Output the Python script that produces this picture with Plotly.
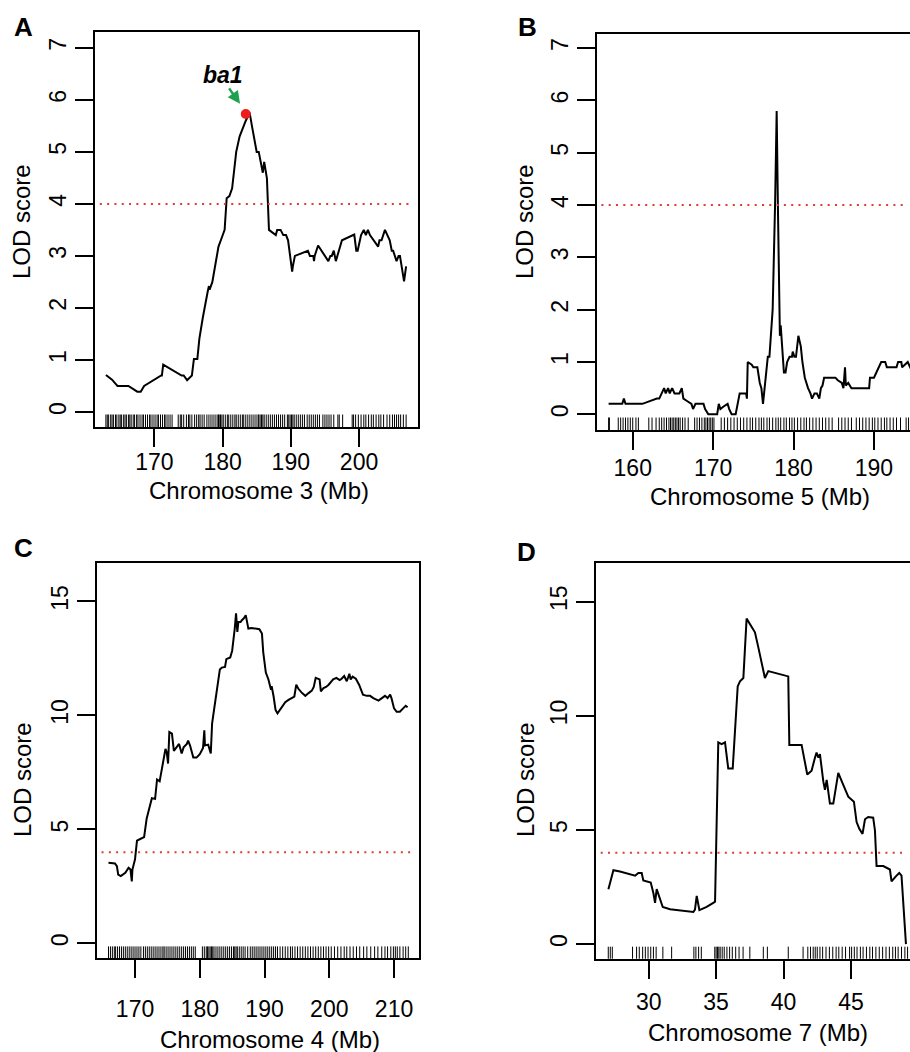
import plotly.graph_objects as go

# ---------------- data ----------------
# Panel A: Chromosome 3
a_pos = [162.9, 163.8, 164.2, 164.6, 166.2, 167.5, 168.0, 168.5, 171.0, 171.1, 171.3, 174.0, 174.3, 174.8, 175.5, 175.8, 176.3, 176.6, 177.1, 177.5, 177.8, 178.0, 178.1, 178.5, 179.0, 179.4, 179.8, 180.3, 180.6, 181.0, 181.4, 181.7, 182.0, 182.5, 183.0, 183.4, 183.8, 184.0, 184.3, 184.6, 185.0, 185.3, 185.6, 185.9, 186.1, 186.3, 186.5, 186.8, 187.8, 188.0, 188.5, 188.9, 189.3, 189.6, 190.2, 190.3, 190.6, 192.5, 192.8, 193.3, 193.4, 193.5, 194.0, 195.5, 195.8, 196.0, 196.3, 196.6, 197.2, 197.5, 199.3, 199.6, 199.8, 200.3, 200.7, 201.0, 201.3, 201.6, 202.8, 203.0, 203.3, 203.8, 204.5, 204.8, 205.0, 205.5, 205.8, 206.0, 206.6, 206.9]
a_lod = [0.71, 0.62, 0.56, 0.50, 0.50, 0.39, 0.39, 0.50, 0.70, 0.70, 0.91, 0.70, 0.70, 0.61, 0.70, 1.02, 1.02, 1.41, 1.81, 2.13, 2.30, 2.42, 2.35, 2.50, 2.90, 3.18, 3.32, 3.50, 4.11, 4.15, 4.30, 4.60, 5.00, 5.30, 5.49, 5.60, 5.71, 5.73, 5.50, 5.30, 5.00, 5.00, 4.78, 4.60, 4.81, 4.60, 4.49, 3.50, 3.40, 3.50, 3.50, 3.40, 3.40, 3.30, 2.70, 2.80, 3.00, 3.10, 3.00, 3.00, 2.90, 3.00, 3.20, 2.90, 3.00, 3.00, 3.10, 2.90, 3.20, 3.30, 3.41, 3.10, 3.10, 3.40, 3.50, 3.40, 3.50, 3.40, 3.18, 3.30, 3.30, 3.50, 3.30, 3.10, 3.10, 2.90, 3.00, 3.00, 2.51, 2.80, 2.70, 2.70]
a_markers = [162.9, 163.1, 163.3, 163.6, 163.8, 164.0, 164.3, 164.5, 164.8, 165.0, 165.2, 165.5, 165.7, 165.9, 166.2, 166.4, 166.6, 166.9, 167.1, 167.4, 167.6, 167.9, 168.2, 168.4, 168.7, 169.0, 169.3, 169.5, 169.8, 170.1, 170.4, 170.6, 170.9, 171.2, 171.5, 171.7, 172.0, 172.3, 172.6,
             173.5, 173.8, 174.0, 174.3, 174.7, 175.0, 175.2, 175.5, 175.9, 176.2, 176.5, 176.7, 177.0, 177.3, 177.7, 178.0, 178.3, 178.6,
             178.9, 179.2, 179.4, 179.5, 179.7, 179.9, 180.1, 180.4, 180.7, 180.9, 181.2, 181.5, 181.8, 182.0, 182.3, 182.6, 182.9, 183.1, 183.4, 183.7, 184.0, 184.3, 184.6, 184.9, 185.2, 185.3, 185.5, 185.7, 185.9, 186.1, 186.4, 186.7, 187.0, 187.3, 187.6, 187.9, 188.2, 188.5, 188.8, 189.1, 189.5, 189.7, 189.9, 190.1, 190.3, 190.5, 190.8, 191.1, 191.4, 191.7, 192.0, 192.4, 192.7, 193.0, 193.3, 193.6, 193.9, 194.2,
             194.7, 195.0, 195.3, 195.6, 195.9, 196.3, 196.9, 197.1, 197.6,
             199.0, 199.2, 199.5, 199.9, 200.3, 200.7, 201.0, 201.4, 201.8, 202.1, 202.5, 202.9, 203.2, 203.6, 204.1, 204.5, 204.9, 205.2, 205.5, 205.8, 206.1, 206.5, 206.9]
a_peak = (183.4, 5.73)

# Panel B: Chromosome 5
b_pos = [157.0, 158.7, 158.9, 159.1, 161.2, 162.0, 163.0, 163.3, 163.6, 163.9, 164.1, 164.4, 164.6, 164.9, 165.2, 165.8, 166.1, 166.3, 166.8, 167.3, 167.5, 167.8, 168.8, 169.0, 169.4, 170.5, 170.7, 170.9, 171.3, 171.8, 172.0, 172.3, 172.8, 173.2, 173.3, 174.1, 174.2, 174.3, 174.8, 175.0, 175.5, 175.8, 176.0, 176.2, 176.6, 176.8, 177.0, 177.4, 177.7, 177.9, 178.05, 178.2, 178.3, 178.4, 178.6, 178.8, 179.0, 179.2, 179.5, 179.8, 179.9, 180.1, 180.3, 180.6, 180.9, 181.1, 181.4, 181.8, 182.1, 182.3, 182.6, 182.9, 183.2, 183.4, 183.6, 183.8, 185.2, 185.5, 186.0, 186.2, 186.4, 186.5, 186.8, 187.2, 189.4, 189.5, 190.0, 190.3, 190.6, 190.9, 191.4, 191.6, 192.8, 193.0, 193.4, 193.5, 194.2, 194.5, 195.0]
b_lod = [0.20, 0.20, 0.30, 0.20, 0.20, 0.25, 0.30, 0.30, 0.40, 0.50, 0.40, 0.50, 0.40, 0.50, 0.40, 0.40, 0.50, 0.30, 0.25, 0.20, 0.10, 0.20, 0.20, 0.10, 0.00, 0.00, 0.20, 0.10, 0.15, 0.20, 0.10, 0.00, 0.00, 0.30, 0.40, 0.40, 0.30, 1.00, 0.95, 0.90, 0.90, 0.60, 0.50, 0.20, 0.80, 1.10, 1.10, 2.00, 4.00, 5.80, 4.00, 1.71, 1.50, 1.70, 1.20, 0.80, 0.80, 1.00, 1.10, 1.10, 1.20, 1.10, 1.10, 1.50, 1.30, 1.00, 0.70, 0.50, 0.40, 0.30, 0.40, 0.40, 0.30, 0.50, 0.55, 0.70, 0.70, 0.65, 0.60, 0.50, 0.90, 0.55, 0.60, 0.50, 0.50, 0.70, 0.70, 0.80, 0.90, 1.00, 1.00, 0.90, 0.90, 1.00, 1.00, 0.90, 1.00, 0.90, 1.00]
b_markers = [157.0, 157.1, 158.2, 158.5, 158.8, 159.1, 159.4, 159.7, 160.0, 160.4, 160.7, 162.0, 162.4, 162.9, 163.3, 163.6, 163.9, 164.2, 164.5, 164.7, 164.9, 165.1, 165.3, 165.5, 165.7, 165.9, 166.2, 166.5, 166.9, 167.7, 168.0, 168.3, 168.6, 168.9, 169.1, 169.3, 169.5, 169.7, 169.9, 170.1, 171.0, 171.4, 171.8, 172.2, 172.6, 173.0, 173.4, 173.8, 174.2, 174.6, 174.9, 175.3, 175.7, 176.0, 176.3, 176.7, 177.0, 177.4, 177.8, 178.1, 178.4, 178.8, 179.1, 179.5, 179.8, 180.1, 180.5, 180.9, 181.3, 181.6, 182.0, 182.4, 182.8, 183.2, 183.6, 184.0, 184.4, 184.8, 185.6, 186.0, 186.4, 186.8, 187.2, 187.8, 188.2, 188.6, 189.0, 189.4, 189.8, 190.1, 190.5, 190.9, 191.3, 191.6, 192.0, 192.4, 192.8, 193.3, 194.0, 194.3]

# Panel C: Chromosome 4
c_pos = [165.9, 166.9, 167.2, 167.4, 167.8, 168.5, 169.0, 169.3, 169.5, 169.6, 170.0, 170.3, 170.8, 171.4, 171.8, 172.2, 172.6, 173.1, 173.4, 173.8, 174.1, 174.5, 174.7, 174.9, 175.1, 175.3, 175.7, 176.0, 176.4, 176.8, 177.2, 177.5, 178.0, 178.2, 178.5, 179.0, 179.5, 180.0, 180.5, 180.7, 180.8, 181.3, 181.7, 181.9, 182.2, 182.6, 183.1, 183.4, 183.9, 184.1, 184.7, 185.0, 185.3, 185.4, 185.6, 185.8, 185.96, 186.3, 186.5, 186.8, 187.1, 187.5, 188.0, 188.8, 189.2, 189.6, 189.8, 190.2, 190.6, 191.0, 191.1, 191.4, 191.7, 192.0, 192.4, 192.8, 193.2, 193.7, 194.2, 194.6, 194.9, 195.2, 195.7, 196.3, 196.8, 197.3, 197.6, 197.9, 198.5, 198.7, 199.1, 199.5, 199.9, 200.1, 200.6, 201.1, 201.6, 201.9, 202.3, 202.7, 203.1, 203.3, 203.6, 204.1, 204.6, 205.2, 205.8, 206.3, 206.8, 207.6, 208.1, 208.6, 209.0, 209.4, 209.6, 210.0, 210.4, 210.9, 211.4, 211.8, 212.1]
c_lod = [3.54, 3.51, 3.39, 3.02, 2.95, 3.10, 3.32, 3.24, 2.72, 3.24, 3.69, 4.51, 4.58, 4.66, 5.48, 6.00, 6.37, 6.34, 7.19, 7.11, 7.63, 8.30, 8.53, 8.38, 7.89, 9.27, 9.20, 8.45, 8.60, 8.75, 8.33, 8.60, 8.75, 8.90, 8.68, 8.15, 8.15, 8.30, 8.57, 9.35, 8.68, 8.72, 8.33, 9.64, 10.24, 10.98, 12.02, 12.10, 12.13, 12.47, 12.54, 12.84, 13.51, 13.81, 14.48, 13.66, 14.10, 14.10, 14.18, 14.26, 14.40, 13.81, 13.84, 13.81, 13.78, 13.59, 12.77, 11.88, 11.58, 11.13, 11.28, 10.83, 10.24, 10.09, 10.27, 10.46, 10.58, 10.68, 10.76, 10.83, 11.35, 11.18, 11.01, 10.86, 10.98, 11.09, 11.25, 11.65, 11.58, 11.06, 11.20, 11.25, 11.35, 11.43, 11.58, 11.65, 11.55, 11.61, 11.73, 11.50, 11.83, 11.58, 11.70, 11.61, 11.35, 10.91, 10.86, 10.86, 10.76, 10.65, 10.76, 10.86, 10.76, 10.91, 10.76, 10.31, 10.16, 10.16, 10.31, 10.42, 10.36]
c_markers = [165.9, 166.2, 166.5, 166.8, 167.0, 167.3, 167.6, 167.9, 168.2, 168.5, 168.8, 169.1, 169.4, 169.7, 170.0, 170.3, 170.6, 170.9, 171.3, 171.6, 171.9, 172.2, 172.5, 172.8, 173.1, 173.4, 173.7, 174.0, 174.3, 174.5, 174.8, 175.1, 175.4, 175.7, 176.0, 176.3, 176.6, 176.9, 177.2, 177.5, 177.8, 178.1, 178.4, 178.7, 179.0, 179.3, 180.4, 180.7, 181.0, 181.2, 181.4, 181.6, 181.8, 182.0, 182.2, 182.5, 182.8, 183.1, 183.4, 183.7, 184.0, 184.3, 184.6, 184.9, 185.2, 185.4, 185.6, 185.8, 186.1, 186.4, 186.7, 187.0, 187.4, 187.8, 188.1, 188.4, 188.7, 189.0, 189.3, 189.6, 189.9, 190.2, 190.5, 190.8, 191.1, 191.4, 191.7, 192.0, 192.4, 192.8, 193.2, 193.6, 194.0, 194.3, 194.7, 195.1, 195.5, 195.9, 196.3, 196.7, 197.1, 197.5, 197.9, 198.3, 198.7, 199.1, 199.5, 199.9, 200.3, 200.8, 201.3, 201.8, 202.3, 202.7, 203.2, 203.7, 204.2, 204.7, 205.3, 205.8, 206.4, 207.0, 207.5, 208.1, 208.6, 209.0, 209.5, 209.9, 210.2, 210.5, 210.9, 211.4, 211.8, 212.2]

# Panel D: Chromosome 7
d_pos = [27.01, 27.38, 27.87, 28.37, 28.99, 29.23, 29.48, 29.60, 29.85, 30.15, 30.35, 30.47, 30.59, 30.79, 31.04, 31.58, 32.32, 32.82, 33.31, 33.43, 33.56, 33.76, 34.30, 34.79, 34.92, 35.16, 35.41, 35.66, 35.90, 36.23, 36.40, 36.60, 36.77, 37.02, 37.26, 37.51, 37.88, 38.13, 38.38, 38.62, 38.87, 39.37, 39.98, 40.35, 40.43, 40.72, 41.34, 41.76, 42.08, 42.33, 42.45, 42.58, 42.70, 42.95, 43.07, 43.20, 43.44, 43.69, 44.06, 44.43, 44.80, 45.22, 45.42, 45.62, 45.86, 46.04, 46.28, 46.65, 46.78, 46.90, 47.40, 47.89, 48.01, 48.33, 48.58, 48.75, 49.08]
d_lod = [2.41, 3.24, 3.18, 3.09, 3.00, 3.12, 3.12, 2.79, 2.75, 2.70, 2.23, 1.81, 2.41, 2.08, 1.63, 1.53, 1.49, 1.44, 1.41, 1.51, 2.11, 1.49, 1.63, 1.81, 1.86, 8.84, 8.76, 8.84, 7.69, 7.69, 9.36, 11.29, 11.51, 11.66, 14.26, 14.04, 13.66, 13.00, 12.33, 11.66, 11.96, 11.88, 11.81, 11.73, 8.73, 8.73, 8.73, 7.43, 7.60, 8.17, 8.39, 8.17, 8.32, 7.13, 6.76, 7.20, 6.16, 6.16, 7.50, 6.98, 6.46, 6.24, 5.35, 5.05, 4.83, 5.47, 5.57, 5.54, 4.98, 3.42, 3.42, 3.27, 2.75, 2.97, 3.12, 3.00, 0.00]
d_markers = [27.0, 27.15, 27.3, 28.8, 29.1, 29.3, 29.55, 29.75, 29.95, 30.15, 30.35, 30.55, 31.05, 31.7, 33.35, 33.5, 33.7, 33.9, 34.9, 35.0, 35.1, 35.2, 35.3, 35.45, 35.6, 35.8, 36.0, 36.2, 36.45, 36.7, 37.0, 37.5, 38.5, 38.8, 40.35, 41.45, 41.8, 42.0, 42.2, 42.35, 42.5, 42.7, 42.9, 43.15, 43.4, 43.65, 43.9, 44.1, 44.35, 44.6, 44.9, 45.05, 45.25, 45.45, 45.7, 45.9, 46.15, 46.4, 46.6, 46.85, 47.1, 47.35, 47.6, 47.85, 48.1, 48.3, 48.5, 48.75, 49.0, 49.2]

threshold = 4

W, H = 910, 1052
FONT = "Liberation Sans, Arial, Helvetica, sans-serif"

def fx(px):
    return px / W

def fy(py):
    return 1 - py / H

panels = [
    dict(name="A", x=a_pos, y=a_lod, rug=a_markers,
         xdom=(95, 417.7), ydom=(32.3, 427.0), xr=[161.3, 208.6], yr=[-0.29, 7.30],
         yticks=[0, 1, 2, 3, 4, 5, 6, 7], xticks=[170, 180, 190, 200],
         xtitle="Chromosome 3 (Mb)", xtitle_pos=(259, 491), ytitle_pos=(22, 222),
         letter_pos=(23, 27), rug_px=5.5, mirror_y=True, xstand=-5),
    dict(name="B", x=b_pos, y=b_lod, rug=b_markers,
         xdom=(596.7, 910), ydom=(34, 430), xr=[155.52, 194.48], yr=[-0.30, 7.27],
         yticks=[0, 1, 2, 3, 4, 5, 6, 7], xticks=[160, 170, 180, 190],
         xtitle="Chromosome 5 (Mb)", xtitle_pos=(760, 497), ytitle_pos=(525, 222),
         letter_pos=(527, 27), rug_px=5.5, mirror_y=False, xstand=-2),
    dict(name="C", x=c_pos, y=c_lod, rug=c_markers,
         xdom=(96.7, 419.3), ydom=(563.4, 958.4), xr=[164.08, 213.9], yr=[-0.658, 16.67],
         yticks=[0, 5, 10, 15], xticks=[170, 180, 190, 200, 210],
         xtitle="Chromosome 4 (Mb)", xtitle_pos=(270, 1039), ytitle_pos=(22, 780),
         letter_pos=(23, 548), rug_px=5.0, mirror_y=True, xstand=11),
    dict(name="D", x=d_pos, y=d_lod, rug=d_markers,
         xdom=(596, 910), ydom=(563.4, 958.7), xr=[26.09, 49.38], yr=[-0.637, 16.68],
         yticks=[0, 5, 10, 15], xticks=[30, 35, 40, 45],
         xtitle="Chromosome 7 (Mb)", xtitle_pos=(758, 1032), ytitle_pos=(525, 780),
         letter_pos=(526, 552), rug_px=5.0, mirror_y=False, xstand=4),
]

fig = go.Figure()
layout = dict(
    width=W, height=H,
    margin=dict(l=0, r=0, t=0, b=0),
    paper_bgcolor="white", plot_bgcolor="white",
    showlegend=False,
    font=dict(family=FONT, color="black"),
)
annotations = []
shapes = []

for i, p in enumerate(panels, start=1):
    xa = "x" if i == 1 else f"x{i}"
    ya = "y" if i == 1 else f"y{i}"
    xkey = "xaxis" if i == 1 else f"xaxis{i}"
    ykey = "yaxis" if i == 1 else f"yaxis{i}"

    # LOD profile
    fig.add_trace(go.Scatter(x=p["x"], y=p["y"], mode="lines",
                             line=dict(color="black", width=2),
                             xaxis=xa, yaxis=ya, hoverinfo="skip"))
    # marker rug
    yr = p["yr"]
    ph = p["ydom"][1] - p["ydom"][0]
    rug_y = yr[0] + p["rug_px"] * (yr[1] - yr[0]) / ph
    fig.add_trace(go.Scatter(x=p["rug"], y=[rug_y] * len(p["rug"]), mode="markers",
                             marker=dict(symbol="line-ns", size=10,
                                         line=dict(width=1, color="black")),
                             xaxis=xa, yaxis=ya, hoverinfo="skip"))

    layout[xkey] = dict(
        domain=[fx(p["xdom"][0]), fx(p["xdom"][1])], range=p["xr"],
        anchor=ya, showline=True, linecolor="black", linewidth=2, mirror=True,
        ticks="outside", ticklen=18, tickwidth=2, tickcolor="black",
        tickvals=p["xticks"], ticktext=[str(t) for t in p["xticks"]],
        ticklabelstandoff=p["xstand"],
        tickfont=dict(size=23, family=FONT, color="black"),
        showgrid=False, zeroline=False, fixedrange=True,
    )
    layout[ykey] = dict(
        domain=[fy(p["ydom"][1]), fy(p["ydom"][0])], range=p["yr"],
        anchor=xa, showline=True, linecolor="black", linewidth=2, mirror=p["mirror_y"],
        ticks="outside", ticklen=18, tickwidth=2, tickcolor="black",
        tickvals=p["yticks"], ticktext=[str(t) for t in p["yticks"]],
        tickangle=-90,
        tickfont=dict(size=23, family=FONT, color="black"),
        showgrid=False, zeroline=False, fixedrange=True,
    )

    # threshold line
    shapes.append(dict(type="line", xref=f"{xa} domain", yref=ya,
                       x0=0.015, x1=0.985, y0=threshold, y1=threshold,
                       line=dict(color="#e23a32", width=2, dash="2px,5.3px")))

    # titles and panel letters
    annotations.append(dict(text=p["xtitle"], xref="paper", yref="paper",
                            x=fx(p["xtitle_pos"][0]), y=fy(p["xtitle_pos"][1]),
                            xanchor="center", yanchor="middle", showarrow=False,
                            font=dict(size=24, family=FONT, color="black")))
    annotations.append(dict(text="LOD score", xref="paper", yref="paper",
                            x=fx(p["ytitle_pos"][0]), y=fy(p["ytitle_pos"][1]),
                            xanchor="center", yanchor="middle", showarrow=False,
                            textangle=-90,
                            font=dict(size=24, family=FONT, color="black")))
    annotations.append(dict(text="<b>" + p["name"] + "</b>", xref="paper", yref="paper",
                            x=fx(p["letter_pos"][0]), y=fy(p["letter_pos"][1]),
                            xanchor="center", yanchor="middle", showarrow=False,
                            font=dict(size=26, family=FONT, color="black")))

# ba1 peak marker
fig.add_trace(go.Scatter(x=[a_peak[0]], y=[a_peak[1]], mode="markers",
                         marker=dict(color="#ee1c1c", size=10),
                         xaxis="x", yaxis="y", hoverinfo="skip"))
annotations.append(dict(text="<b><i>ba1</i></b>", x=180.07, y=6.48, xref="x", yref="y",
                        showarrow=False, font=dict(size=23, family=FONT, color="black")))
annotations.append(dict(text="", x=182.56, y=5.924, xref="x", yref="y",
                        ax=-12, ay=-17,
                        showarrow=True, arrowhead=2, arrowsize=1.0, arrowwidth=2.5,
                        standoff=0, startstandoff=0,
                        arrowcolor="#1fa24f"))

layout["annotations"] = annotations
layout["shapes"] = shapes
fig.update_layout(**layout)
fig.write_html("out.html",
               config={"displayModeBar": False, "staticPlot": True},
               post_script="document.body.style.margin='0';"
                           "document.documentElement.style.overflow='hidden';"
                           "document.body.style.overflow='hidden';")
